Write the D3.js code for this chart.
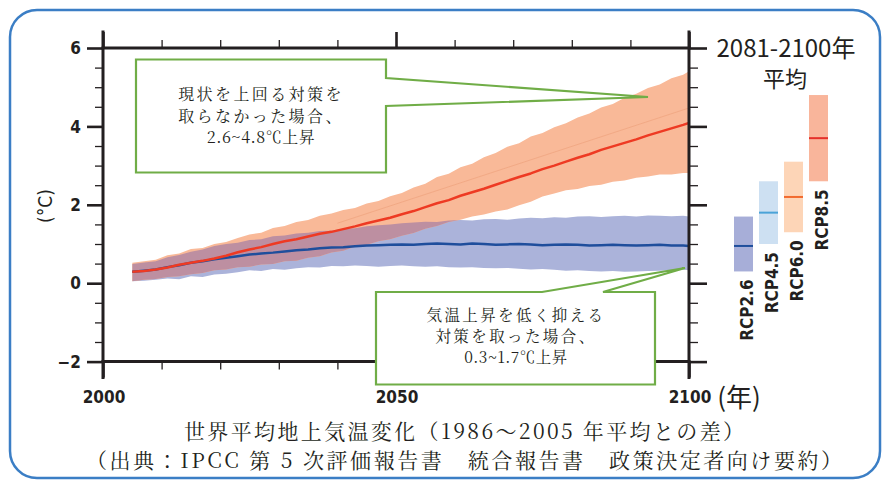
<!DOCTYPE html>
<html><head><meta charset="utf-8">
<script src="https://cdn.jsdelivr.net/npm/d3@7"></script>
<style>
html,body{margin:0;padding:0;background:#fff;}
svg{display:block;}
</style></head><body>
<svg id="chart" width="888" height="481"></svg>
<script>
// Global mean surface temperature change, RCP2.6 vs RCP8.5 projections
const years = [2005,2007,2009,2011,2013,2015,2017,2019,2021,2023,2025,2027,2029,2031,2033,2035,2037,2039,2041,2043,2045,2047,2049,2051,2053,2055,2057,2059,2061,2063,2065,2067,2069,2071,2073,2075,2077,2079,2081,2083,2085,2087,2089,2091,2093,2095,2097,2099,2100];

const rcp85Mid = [.29,.31,.35,.40,.47,.52,.57,.63,.70,.79,.86,.92,1.00,1.07,1.12,1.19,1.26,1.31,1.38,1.45,1.53,1.60,1.67,1.76,1.84,1.94,2.04,2.12,2.23,2.32,2.41,2.51,2.61,2.71,2.80,2.91,3.00,3.10,3.20,3.29,3.40,3.49,3.58,3.67,3.77,3.86,3.95,4.04,4.09];
const rcp85Hi  = [.52,.56,.60,.71,.76,.87,.90,1.00,1.05,1.15,1.24,1.29,1.41,1.46,1.56,1.61,1.72,1.78,1.87,1.92,2.03,2.10,2.22,2.30,2.44,2.54,2.71,2.79,2.96,3.05,3.21,3.32,3.48,3.57,3.74,3.83,3.98,4.08,4.23,4.33,4.48,4.57,4.73,4.83,4.98,5.07,5.23,5.32,5.41];
const rcp85Lo  = [.05,.09,.11,.16,.18,.23,.26,.33,.35,.41,.42,.48,.49,.56,.57,.65,.69,.78,.83,.93,.98,1.07,1.12,1.21,1.28,1.39,1.46,1.56,1.62,1.70,1.75,1.83,1.88,1.99,2.08,2.21,2.29,2.37,2.40,2.48,2.51,2.59,2.62,2.69,2.72,2.77,2.77,2.81,2.81];

const rcp26Mid = [.29,.32,.35,.41,.46,.52,.56,.61,.65,.69,.73,.76,.78,.81,.84,.86,.89,.91,.92,.94,.96,.97,.98,.99,.98,1.00,1.01,1.00,.99,1.01,1.00,.98,.99,1.00,.99,.97,.98,.99,.98,.96,.97,.98,.97,.96,.97,.98,.96,.96,.95];
const rcp26Hi  = [.49,.53,.56,.66,.72,.80,.86,.95,1.00,1.03,1.10,1.12,1.20,1.22,1.27,1.29,1.33,1.34,1.39,1.40,1.45,1.48,1.50,1.53,1.55,1.57,1.56,1.60,1.61,1.60,1.63,1.64,1.62,1.65,1.67,1.66,1.68,1.67,1.70,1.71,1.69,1.71,1.72,1.70,1.73,1.72,1.71,1.72,1.70];
const rcp26Lo  = [.05,.06,.09,.12,.10,.18,.16,.22,.24,.28,.33,.31,.36,.34,.38,.41,.40,.44,.43,.45,.44,.42,.44,.45,.43,.42,.43,.41,.40,.41,.39,.38,.39,.37,.35,.36,.34,.32,.33,.31,.30,.31,.29,.30,.31,.32,.33,.34,.33];

// thin guide line inside the RCP8.5 envelope
const guideYears = [2040, 2070, 2100];
const guideVals  = [1.53, 3.00, 4.47];

// 2081-2100 averages
const rcpNames = ["RCP2.6","RCP4.5","RCP6.0","RCP8.5"];
const rcpMean  = [0.95, 1.8, 2.2, 3.7];
const rcpLow   = [0.3, 1.0, 1.3, 2.6];
const rcpHigh  = [1.7, 2.6, 3.1, 4.8];
const rcpFill  = ["#a7aed8","#cde0f2","#fdd5b7","#f9b59b"];
const rcpLine  = ["#1f4e9c","#4aa3d8","#f26a2e","#e5302a"];

const yMajor = [-2, 0, 2, 4, 6];
const yMinor = [-1.5,-1,-0.5,0.5,1,1.5,2.5,3,3.5,4.5,5,5.5];
const xMajor = [2000, 2050, 2100];
const xMinor = [2010,2020,2030,2040,2060,2070,2080,2090];

const svg = d3.select("#chart");
const ink = "#231f20";
const numFont = "'Liberation Sans Narrow','DejaVu Sans Condensed','Open Sans',sans-serif";
const jpSans = "'Noto Sans CJK JP','Noto Sans CJK SC',sans-serif";
const jpSerif = "'Noto Serif CJK JP','Noto Sans CJK JP',serif";

// rounded frame
svg.append("rect").attr("x",10).attr("y",10).attr("width",870).attr("height",468)
  .attr("rx",27).attr("fill","#fff").attr("stroke","#3b7ec5").attr("stroke-width",2.5);

const x = d3.scaleLinear().domain([2000,2100]).range([103,689]);
const y = d3.scaleLinear().domain([-2,6]).range([361.6,48]);

const series = years.map((yr,i)=>({yr, m85:rcp85Mid[i], h85:rcp85Hi[i], l85:rcp85Lo[i], m26:rcp26Mid[i], h26:rcp26Hi[i], l26:rcp26Lo[i]}));

const defs = svg.append("defs");
defs.append("clipPath").attr("id","plotClip").append("rect")
  .attr("x",x(2000)).attr("y",y(6)).attr("width",x(2100)-x(2000)).attr("height",y(-2)-y(6));

const area85 = d3.area().x(d=>x(d.yr)).y0(d=>y(d.l85)).y1(d=>y(d.h85));
const area26 = d3.area().x(d=>x(d.yr)).y0(d=>y(d.l26)).y1(d=>y(d.h26));
defs.append("clipPath").attr("id","clip85").append("path").attr("d", area85(series));

const plot = svg.append("g").attr("clip-path","url(#plotClip)");
plot.append("path").attr("d", area26(series)).attr("fill","#abb3da");
plot.append("path").attr("d", area85(series)).attr("fill","#f9b998");
plot.append("path").attr("d", area26(series)).attr("fill","#bd8fa1").attr("clip-path","url(#clip85)");

plot.append("path")
  .attr("d", d3.line().x((d,i)=>x(guideYears[i])).y(d=>y(d))(guideVals))
  .attr("fill","none").attr("stroke","#eea27e").attr("stroke-width",1).attr("opacity",0.7);

plot.append("path")
  .attr("d", d3.line().x(d=>x(d.yr)).y(d=>y(d.m26))(series))
  .attr("fill","none").attr("stroke","#1f4e9c").attr("stroke-width",2.5).attr("stroke-linejoin","round");
plot.append("path")
  .attr("d", d3.line().x(d=>x(d.yr)).y(d=>y(d.m85))(series))
  .attr("fill","none").attr("stroke","#ee3a23").attr("stroke-width",2.5).attr("stroke-linejoin","round");

// axes
function styleAxis(g, w){
  g.select(".domain").remove();
  g.selectAll(".tick line").attr("stroke",ink).attr("stroke-width",w);
  g.selectAll(".tick text").remove();
}
svg.append("g").attr("transform",`translate(${x(2000)},0)`)
  .call(d3.axisLeft(y).tickValues(yMajor).tickSize(16)).call(g=>styleAxis(g,2.6));
svg.append("g").attr("transform",`translate(${x(2000)},0)`)
  .call(d3.axisLeft(y).tickValues(yMinor).tickSize(8)).call(g=>styleAxis(g,1.3));
svg.append("g").attr("transform",`translate(${x(2100)},0)`)
  .call(d3.axisRight(y).tickValues(yMajor).tickSize(18)).call(g=>styleAxis(g,2.6));
svg.append("g").attr("transform",`translate(${x(2100)},0)`)
  .call(d3.axisRight(y).tickValues(yMinor).tickSize(9)).call(g=>styleAxis(g,1.3));
svg.append("g").attr("transform",`translate(0,${y(6)})`)
  .call(d3.axisTop(x).tickValues(xMajor).tickSize(16)).call(g=>styleAxis(g,2.6));
svg.append("g").attr("transform",`translate(0,${y(6)})`)
  .call(d3.axisTop(x).tickValues(xMinor).tickSize(8)).call(g=>styleAxis(g,1.3));
svg.append("g").attr("transform",`translate(0,${y(-2)})`)
  .call(d3.axisBottom(x).tickValues(xMajor).tickSize(16)).call(g=>styleAxis(g,2.6));
svg.append("g").attr("transform",`translate(0,${y(-2)})`)
  .call(d3.axisBottom(x).tickValues(xMinor).tickSize(8)).call(g=>styleAxis(g,1.3));

const frame = svg.append("g").attr("stroke",ink).attr("stroke-width",3).attr("stroke-linecap","square");
frame.append("line").attr("x1",x(2000)).attr("x2",x(2100)).attr("y1",y(6)).attr("y2",y(6));
frame.append("line").attr("x1",x(2000)).attr("x2",x(2100)).attr("y1",y(-2)).attr("y2",y(-2));
frame.append("line").attr("x1",x(2000)).attr("x2",x(2000)).attr("y1",y(6)-16).attr("y2",y(-2)+16);
frame.append("line").attr("x1",x(2100)).attr("x2",x(2100)).attr("y1",y(6)-16).attr("y2",y(-2)+16);

// tick labels
svg.append("g").selectAll("text").data(yMajor).join("text")
  .attr("x",81).attr("y",d=>y(d)).attr("dy","0.36em").attr("text-anchor","end")
  .attr("font-family",numFont).attr("font-weight","bold").attr("font-size",17).attr("fill",ink)
  .text(d=>d<0 ? "\u2212"+Math.abs(d) : d);
svg.append("g").selectAll("text").data(xMajor).join("text")
  .attr("x",d=>x(d)+1).attr("y",403).attr("text-anchor","middle")
  .attr("font-family",numFont).attr("font-weight","bold").attr("font-size",17).attr("fill",ink)
  .text(d=>d);

svg.append("text").attr("transform","translate(52,206) rotate(-90)").attr("text-anchor","middle")
  .attr("font-family",numFont).attr("font-size",19).attr("fill",ink).text("(°C)");
svg.append("text").attr("x",739).attr("y",407).attr("text-anchor","middle")
  .attr("font-family",jpSans).attr("font-size",26).attr("fill",ink).text("(年)");

// 2081-2100 average bars
svg.append("text").attr("x",786).attr("y",57).attr("text-anchor","middle")
  .attr("font-family",jpSans).attr("font-size",24).attr("fill",ink).text("2081-2100年");
svg.append("text").attr("x",785).attr("y",87).attr("text-anchor","middle")
  .attr("font-family",jpSans).attr("font-size",22).attr("fill",ink).text("平均");

const xb = d3.scaleBand().domain(rcpNames).range([734,828]).paddingInner(0.24).paddingOuter(0);
const leg = svg.append("g");
rcpNames.forEach((n,i)=>{
  leg.append("rect").attr("x",xb(n)).attr("width",xb.bandwidth())
    .attr("y",y(rcpHigh[i])).attr("height",y(rcpLow[i])-y(rcpHigh[i])).attr("fill",rcpFill[i]);
  leg.append("line").attr("x1",xb(n)).attr("x2",xb(n)+xb.bandwidth())
    .attr("y1",y(rcpMean[i])).attr("y2",y(rcpMean[i])).attr("stroke",rcpLine[i]).attr("stroke-width",2);
  leg.append("text")
    .attr("transform",`translate(${xb(n)+xb.bandwidth()-0.5},${y(rcpLow[i])+8}) rotate(-90)`)
    .attr("text-anchor","end").attr("font-family",numFont).attr("font-weight","bold")
    .attr("font-size",17).attr("fill",ink).text(n);
});

// callouts
const callouts = svg.append("g");
callouts.append("path").attr("d","M136,59.5H386V78L648,97L386,106V172.5H136Z")
  .attr("fill","#fff").attr("stroke","#70ad47").attr("stroke-width",2.2).attr("stroke-linejoin","miter");
callouts.append("path").attr("d","M376,292H542L685,268L603,292H655V384.5H376Z")
  .attr("fill","#fff").attr("stroke","#70ad47").attr("stroke-width",2.2).attr("stroke-linejoin","miter");

function noteLines(lines, cx, y0, lh, fs){
  lines.forEach((t,i)=>{
    callouts.append("text").attr("x",cx).attr("y",y0+i*lh).attr("text-anchor","middle")
      .attr("font-family",jpSerif).attr("font-size",fs).attr("letter-spacing",i===2?0.5:2.4)
      .attr("fill",ink).text(t);
  });
}
noteLines(["現状を上回る対策を","取らなかった場合、","2.6~4.8℃上昇"], 261, 100, 21.5, 16);
noteLines(["気温上昇を低く抑える","対策を取った場合、","0.3~1.7℃上昇"], 516, 320.5, 21, 15.5);

// caption
svg.append("text").attr("x",464).attr("y",439).attr("text-anchor","middle")
  .attr("font-family",jpSerif).attr("font-size",21).attr("fill",ink)
  .attr("textLength",560).attr("lengthAdjust","spacing")
  .text("世界平均地上気温変化（1986～2005 年平均との差）");
svg.append("text").attr("x",464).attr("y",467.5).attr("text-anchor","middle")
  .attr("font-family",jpSerif).attr("font-size",21).attr("fill",ink)
  .attr("textLength",756).attr("lengthAdjust","spacing")
  .text("（出典：IPCC 第 5 次評価報告書　統合報告書　政策決定者向け要約）");
</script></body></html>
